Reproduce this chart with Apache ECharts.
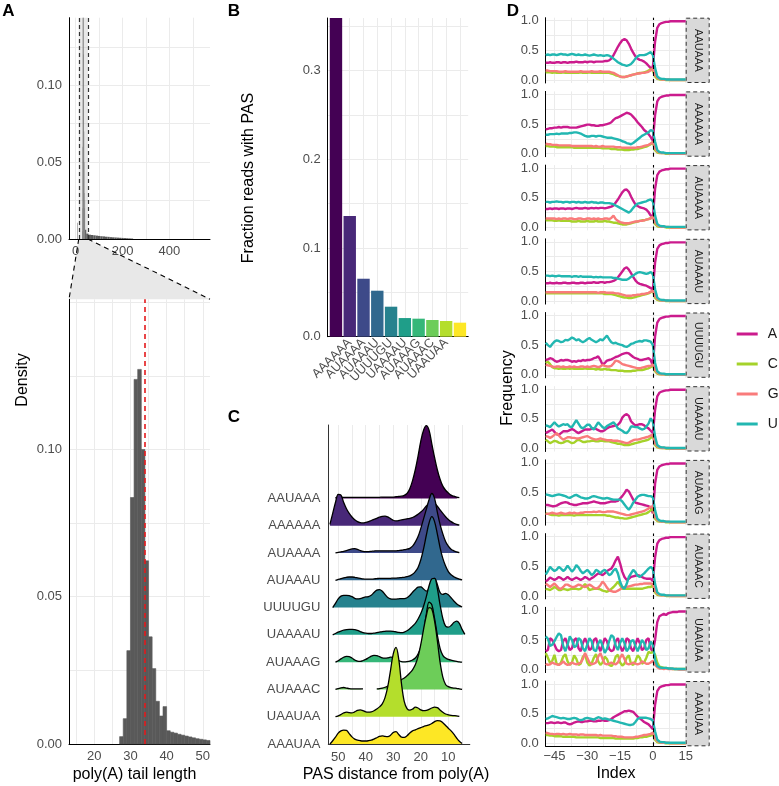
<!DOCTYPE html>
<html><head><meta charset="utf-8">
<script src="https://cdn.jsdelivr.net/npm/echarts@6.0.0/dist/echarts.min.js"></script>
<style>html,body{margin:0;padding:0;background:#fff}#c{width:779px;height:786px}</style>
</head><body><div id="c"></div>
<script>
// ---------------- Panel A data ----------------
const histLeft = [13,14,15,16,17,18,19,20,21,22,23,24,25,26,27,28,29,30,31,32,33,34,35,36,37,38,39,40,41,42,43,44,45,46,47,48,49,50,51];
const histDensity = [0,0,0,0,0,0,0,0,0,0,0,0,0,0,0.0025,0.0086,0.0317,0.0837,0.1238,0.1272,0.100,0.0622,0.0364,0.0256,0.0145,0.0095,0.0127,0.0045,0.0040,0.0037,0.0033,0.0030,0.0027,0.0024,0.0021,0.0018,0.0016,0.0014,0.0012];
const topBinStart = [6,27,28,29,30,31,32,33,34,35,36,37,38,39,40,45,55,65,75,85,95,105,115,125,135,145,155,165,175,185,195,205,215,225,235];
const topBinEnd   = [8,28,29,30,31,32,33,34,35,36,37,38,39,40,45,55,65,75,85,95,105,115,125,135,145,155,165,175,185,195,205,215,225,235,245];
const topDensity  = [0.0105,0.005,0.02,0.06,0.17,0.25,0.26,0.2,0.12,0.07,0.05,0.03,0.02,0.025,0.006,0.0035,0.0028,0.0026,0.0024,0.0022,0.002,0.0018,0.0017,0.0015,0.0014,0.0012,0.0011,0.001,0.0009,0.0008,0.0007,0.0006,0.0005,0.0004,0.0003];
const zoomRange = [13, 52];
const medianTail = 34;

// ---------------- Panel B data ----------------
const pasNames = ['AAUAAA','AAAAAA','AUAAAA','AUAAAU','UUUUGU','UAAAAU','AUAAAG','AUAAAC','UAAUAA','AAAUAA'];
const pasFraction = [0.38,0.136,0.0653,0.0518,0.0338,0.021,0.0203,0.0188,0.0177,0.0158];

// ---------------- Panel C data (density height per PAS, x = distance) ----------------
const ridgeX = [53,52,51,50,49,48,47,46,45,44,43,42,41,40,39,38,37,36,35,34,33,32,31,30,29,28,27,26,25,24,23,22,21,20,19,18,17,16,15,14,13,12,11,10,9,8,7,6,5,4];
const ridge_AAUAAA = [null,null,0.03,0.04,0.04,0.04,0.04,0.04,0.04,0.04,0.04,0.04,0.04,0.04,0.04,0.04,0.04,0.04,0.04,0.05,0.05,0.05,0.05,0.05,0.06,0.07,0.08,0.11,0.18,0.35,0.65,1.05,1.55,2.1,2.5,2.67,2.5,2.0,1.5,1.05,0.7,0.45,0.3,0.2,0.12,0.08,0.05,0.03,null,null];
const ridge_AAAAAA = [0.05,0.45,0.85,1.15,1.12,0.85,0.62,0.45,0.32,0.22,0.15,0.11,0.10,0.12,0.15,0.19,0.23,0.27,0.31,0.34,0.35,0.32,0.26,0.2,0.18,0.19,0.21,0.23,0.25,0.27,0.3,0.35,0.42,0.5,0.6,0.72,0.82,0.85,0.82,0.72,0.58,0.45,0.33,0.23,0.15,0.09,0.05,0.02,null,null];
const ridge_AUAAAA = [null,null,0,0.02,0.04,0.06,0.09,0.12,0.15,0.16,0.13,0.09,0.06,0.05,0.05,0.06,0.07,0.08,0.08,0.08,0.08,0.08,0.08,0.08,0.08,0.09,0.1,0.12,0.14,0.17,0.25,0.4,0.6,0.9,1.25,1.6,1.95,2.18,2.0,1.5,1.05,0.7,0.42,0.25,0.14,0.08,0.04,0.01,null,null];
const ridge_AUAAAU = [null,null,0,0.03,0.06,0.09,0.11,0.12,0.12,0.11,0.09,0.07,0.05,0.04,0.04,0.04,0.05,0.06,0.07,0.07,0.07,0.07,0.07,0.08,0.08,0.09,0.1,0.11,0.13,0.16,0.22,0.32,0.47,0.75,1.15,1.65,2.1,2.33,2.15,1.7,1.2,0.8,0.52,0.32,0.2,0.13,0.08,0.04,0.01,null];
const ridge_UUUUGU = [null,0,0.15,0.32,0.42,0.45,0.45,0.44,0.4,0.34,0.32,0.33,0.36,0.39,0.4,0.45,0.55,0.64,0.66,0.6,0.48,0.37,0.32,0.31,0.31,0.32,0.33,0.33,0.36,0.44,0.56,0.66,0.75,0.76,0.68,0.6,0.7,0.95,1.07,0.85,0.55,0.48,0.52,0.47,0.36,0.24,0.14,0.07,0.02,null];
const ridge_UAAAAU = [null,0,0.05,0.1,0.14,0.17,0.19,0.2,0.2,0.19,0.16,0.12,0.08,0.06,0.05,0.05,0.06,0.08,0.1,0.12,0.13,0.14,0.14,0.13,0.11,0.09,0.08,0.1,0.15,0.22,0.32,0.42,0.58,0.78,1.05,1.4,1.8,2.05,2.07,1.7,1.1,0.6,0.32,0.28,0.34,0.45,0.5,0.42,0.2,0.02];
const ridge_AUAAAG = [null,null,0,0.05,0.12,0.18,0.21,0.2,0.15,0.08,0.04,0.03,0.06,0.1,0.16,0.22,0.25,0.24,0.2,0.16,0.15,0.16,0.18,0.17,0.12,0.06,0.02,0.01,0.02,0.04,0.08,0.15,0.3,0.55,1.05,1.75,2.2,2.1,1.6,1.0,0.5,0.25,0.15,0.1,0.07,0.05,0.03,0.01,0,null];
const ridge_AUAAAC = [null,null,0,0.03,0.06,0.07,0.05,0.03,0.02,0.02,0.02,0.02,0.02,null,null,null,null,0.02,0.03,0.05,0.08,0.12,0.16,0.2,0.25,0.3,0.36,0.42,0.5,0.6,0.72,0.9,1.2,1.65,2.2,2.7,3.0,2.95,2.5,1.8,1.0,0.45,0.18,0.1,0.07,0.05,0.04,0.02,0,null];
const ridge_UAAUAA = [null,null,0,0.03,0.08,0.14,0.17,0.15,0.14,0.18,0.23,0.25,0.22,0.18,0.17,0.18,0.22,0.28,0.36,0.47,0.7,1.1,1.7,2.3,2.54,2.1,1.2,0.55,0.3,0.24,0.28,0.35,0.32,0.25,0.22,0.23,0.27,0.32,0.35,0.33,0.25,0.16,0.1,0.07,0.05,0.04,0.03,0.01,null,null];
const ridge_AAAUAA = [0,0.12,0.25,0.4,0.48,0.51,0.5,0.38,0.26,0.18,0.14,0.12,0.11,0.11,0.12,0.14,0.18,0.23,0.28,0.3,0.28,0.27,0.32,0.42,0.45,0.35,0.25,0.24,0.3,0.4,0.48,0.52,0.56,0.6,0.64,0.67,0.7,0.75,0.82,0.86,0.85,0.78,0.68,0.58,0.48,0.36,0.22,0.1,0.02,null];

// ---------------- Panel D data (nucleotide frequency by index) ----------------
const idx = [-49,-48,-47,-46,-45,-44,-43,-42,-41,-40,-39,-38,-37,-36,-35,-34,-33,-32,-31,-30,-29,-28,-27,-26,-25,-24,-23,-22,-21,-20,-19,-18,-17,-16,-15,-14,-13,-12,-11,-10,-9,-8,-7,-6,-5,-4,-3,-2,-1,0,1,2,3,4,5,6,7,8,9,10,11,12,13,14,15];
const nts = ['A','C','G','U'];

const AAUAAA_A = [0.29,0.29,0.30,0.29,0.29,0.30,0.30,0.29,0.30,0.30,0.29,0.30,0.30,0.30,0.31,0.30,0.30,0.30,0.31,0.30,0.31,0.31,0.30,0.31,0.31,0.31,0.31,0.32,0.32,0.33,0.36,0.42,0.49,0.56,0.62,0.67,0.69,0.67,0.61,0.53,0.46,0.40,0.36,0.34,0.33,0.31,0.28,0.24,0.20,0.22,0.65,0.88,0.94,0.96,0.97,0.98,0.98,0.99,0.99,0.99,0.99,0.99,0.99,0.99,0.99];
const AAUAAA_C = [0.13,0.13,0.13,0.12,0.13,0.12,0.12,0.12,0.13,0.12,0.12,0.12,0.12,0.12,0.12,0.12,0.13,0.12,0.12,0.12,0.13,0.12,0.12,0.12,0.12,0.12,0.12,0.12,0.12,0.12,0.11,0.10,0.08,0.07,0.06,0.05,0.05,0.06,0.07,0.08,0.09,0.10,0.11,0.12,0.12,0.13,0.14,0.16,0.18,0.16,0.06,0.02,0.01,0.01,0.01,0.00,0.00,0.00,0.00,0.00,0.00,0.00,0.00,0.00,0.00];
const AAUAAA_G = [0.16,0.16,0.15,0.15,0.15,0.15,0.14,0.14,0.14,0.15,0.14,0.14,0.14,0.14,0.14,0.14,0.15,0.14,0.14,0.14,0.14,0.15,0.14,0.14,0.14,0.15,0.14,0.14,0.14,0.14,0.13,0.12,0.10,0.08,0.06,0.05,0.05,0.06,0.07,0.08,0.09,0.10,0.11,0.11,0.12,0.12,0.13,0.14,0.16,0.20,0.09,0.04,0.02,0.01,0.01,0.01,0.01,0.00,0.00,0.00,0.00,0.00,0.00,0.00,0.00];
const AAUAAA_U = [0.42,0.43,0.42,0.43,0.43,0.42,0.43,0.44,0.43,0.43,0.42,0.43,0.44,0.43,0.42,0.43,0.42,0.42,0.43,0.42,0.41,0.42,0.43,0.42,0.41,0.42,0.41,0.41,0.42,0.41,0.39,0.36,0.33,0.30,0.28,0.26,0.25,0.24,0.25,0.27,0.31,0.36,0.40,0.42,0.42,0.42,0.43,0.45,0.47,0.42,0.20,0.06,0.03,0.02,0.02,0.01,0.01,0.01,0.01,0.01,0.01,0.01,0.01,0.01,0.01];

const AAAAAA_A = [0.41,0.42,0.43,0.43,0.44,0.44,0.45,0.44,0.45,0.45,0.45,0.44,0.44,0.44,0.44,0.45,0.46,0.47,0.48,0.49,0.49,0.48,0.48,0.47,0.47,0.48,0.48,0.49,0.50,0.51,0.53,0.57,0.60,0.61,0.63,0.65,0.67,0.69,0.68,0.66,0.62,0.58,0.53,0.49,0.45,0.40,0.37,0.33,0.28,0.22,0.65,0.88,0.94,0.96,0.97,0.98,0.98,0.99,0.99,0.99,0.99,0.99,0.99,0.99,0.99];
const AAAAAA_C = [0.13,0.13,0.12,0.12,0.12,0.11,0.11,0.11,0.11,0.11,0.11,0.11,0.11,0.10,0.10,0.10,0.10,0.10,0.10,0.10,0.10,0.10,0.10,0.10,0.10,0.10,0.09,0.09,0.09,0.09,0.08,0.08,0.08,0.07,0.07,0.07,0.06,0.06,0.06,0.07,0.07,0.08,0.08,0.09,0.10,0.11,0.12,0.14,0.16,0.20,0.06,0.02,0.01,0.01,0.01,0.00,0.00,0.00,0.00,0.00,0.00,0.00,0.00,0.00,0.00];
const AAAAAA_G = [0.17,0.16,0.16,0.15,0.15,0.15,0.14,0.14,0.14,0.14,0.14,0.14,0.13,0.13,0.13,0.13,0.13,0.13,0.13,0.13,0.13,0.13,0.12,0.13,0.12,0.12,0.13,0.12,0.12,0.12,0.12,0.12,0.11,0.11,0.11,0.10,0.10,0.10,0.10,0.10,0.10,0.10,0.11,0.11,0.12,0.13,0.14,0.15,0.17,0.20,0.09,0.04,0.02,0.01,0.01,0.01,0.01,0.00,0.00,0.00,0.00,0.00,0.00,0.00,0.00];
const AAAAAA_U = [0.32,0.32,0.33,0.33,0.33,0.34,0.33,0.34,0.34,0.34,0.34,0.35,0.35,0.36,0.36,0.35,0.34,0.32,0.30,0.29,0.29,0.30,0.30,0.29,0.30,0.30,0.29,0.28,0.27,0.27,0.27,0.26,0.25,0.24,0.23,0.21,0.20,0.18,0.17,0.16,0.18,0.21,0.24,0.27,0.30,0.32,0.34,0.36,0.40,0.38,0.20,0.06,0.03,0.02,0.02,0.01,0.01,0.01,0.01,0.01,0.01,0.01,0.01,0.01,0.01];

const AUAAAA_A = [0.31,0.31,0.32,0.31,0.32,0.32,0.31,0.32,0.32,0.31,0.32,0.32,0.31,0.32,0.33,0.32,0.32,0.32,0.33,0.32,0.32,0.33,0.32,0.33,0.32,0.33,0.33,0.32,0.33,0.34,0.35,0.37,0.42,0.47,0.53,0.59,0.63,0.64,0.60,0.52,0.45,0.39,0.36,0.34,0.33,0.32,0.30,0.26,0.20,0.18,0.65,0.88,0.94,0.96,0.97,0.98,0.98,0.99,0.99,0.99,0.99,0.99,0.99,0.99,0.99];
const AUAAAA_C = [0.12,0.12,0.12,0.12,0.11,0.11,0.12,0.11,0.11,0.11,0.11,0.11,0.10,0.10,0.10,0.11,0.10,0.10,0.10,0.11,0.10,0.10,0.10,0.11,0.10,0.10,0.10,0.11,0.10,0.10,0.09,0.08,0.08,0.07,0.06,0.05,0.05,0.05,0.06,0.07,0.08,0.09,0.10,0.11,0.12,0.12,0.13,0.14,0.16,0.18,0.06,0.02,0.01,0.01,0.01,0.00,0.00,0.00,0.00,0.00,0.00,0.00,0.00,0.00,0.00];
const AUAAAA_G = [0.15,0.15,0.15,0.15,0.15,0.14,0.15,0.14,0.15,0.15,0.14,0.15,0.15,0.14,0.14,0.15,0.15,0.14,0.14,0.15,0.15,0.14,0.15,0.14,0.15,0.14,0.14,0.15,0.15,0.14,0.16,0.20,0.14,0.11,0.09,0.08,0.07,0.07,0.07,0.08,0.09,0.10,0.10,0.11,0.11,0.12,0.13,0.14,0.15,0.18,0.09,0.04,0.02,0.01,0.01,0.01,0.01,0.00,0.00,0.00,0.00,0.00,0.00,0.00,0.00];
const AUAAAA_U = [0.43,0.43,0.42,0.43,0.43,0.44,0.43,0.43,0.42,0.43,0.43,0.42,0.43,0.43,0.42,0.43,0.42,0.42,0.43,0.42,0.42,0.43,0.42,0.42,0.41,0.42,0.42,0.41,0.41,0.41,0.40,0.39,0.37,0.35,0.33,0.31,0.29,0.27,0.25,0.28,0.33,0.37,0.40,0.41,0.42,0.43,0.44,0.46,0.47,0.44,0.20,0.06,0.03,0.02,0.02,0.01,0.01,0.01,0.01,0.01,0.01,0.01,0.01,0.01,0.01];

const AUAAAU_A = [0.30,0.30,0.31,0.30,0.30,0.31,0.30,0.30,0.31,0.31,0.30,0.30,0.31,0.31,0.30,0.30,0.31,0.31,0.30,0.31,0.31,0.31,0.32,0.31,0.31,0.32,0.32,0.31,0.32,0.32,0.33,0.34,0.36,0.40,0.45,0.50,0.55,0.57,0.53,0.47,0.41,0.35,0.31,0.29,0.28,0.27,0.26,0.24,0.22,0.20,0.65,0.88,0.94,0.96,0.97,0.98,0.98,0.99,0.99,0.99,0.99,0.99,0.99,0.99,0.99];
const AUAAAU_C = [0.13,0.13,0.13,0.13,0.13,0.13,0.13,0.13,0.13,0.13,0.13,0.13,0.13,0.13,0.13,0.13,0.13,0.13,0.13,0.13,0.13,0.13,0.13,0.13,0.13,0.13,0.13,0.12,0.12,0.12,0.12,0.11,0.10,0.09,0.08,0.07,0.06,0.06,0.05,0.05,0.06,0.07,0.08,0.09,0.10,0.11,0.12,0.13,0.15,0.17,0.06,0.02,0.01,0.01,0.01,0.00,0.00,0.00,0.00,0.00,0.00,0.00,0.00,0.00,0.00];
const AUAAAU_G = [0.15,0.15,0.15,0.15,0.15,0.15,0.15,0.15,0.15,0.15,0.15,0.15,0.15,0.15,0.15,0.15,0.15,0.15,0.15,0.15,0.15,0.15,0.15,0.15,0.14,0.15,0.15,0.15,0.14,0.14,0.14,0.14,0.13,0.13,0.12,0.11,0.10,0.09,0.09,0.09,0.10,0.10,0.11,0.11,0.12,0.12,0.13,0.14,0.16,0.18,0.09,0.04,0.02,0.01,0.01,0.01,0.01,0.00,0.00,0.00,0.00,0.00,0.00,0.00,0.00];
const AUAAAU_U = [0.43,0.43,0.42,0.43,0.42,0.42,0.43,0.42,0.42,0.42,0.42,0.42,0.41,0.42,0.42,0.41,0.42,0.41,0.41,0.41,0.41,0.41,0.40,0.41,0.40,0.41,0.40,0.40,0.40,0.40,0.40,0.39,0.39,0.38,0.37,0.36,0.36,0.36,0.38,0.41,0.43,0.46,0.48,0.49,0.48,0.47,0.46,0.47,0.49,0.45,0.20,0.06,0.03,0.02,0.02,0.01,0.01,0.01,0.01,0.01,0.01,0.01,0.01,0.01,0.01];

const UUUUGU_A = [0.25,0.26,0.28,0.27,0.24,0.22,0.23,0.25,0.24,0.25,0.25,0.24,0.22,0.23,0.22,0.24,0.23,0.25,0.24,0.25,0.25,0.26,0.28,0.29,0.31,0.25,0.17,0.20,0.24,0.25,0.26,0.28,0.30,0.31,0.33,0.35,0.36,0.37,0.36,0.33,0.30,0.28,0.27,0.25,0.25,0.26,0.27,0.28,0.25,0.15,0.65,0.88,0.94,0.96,0.97,0.98,0.98,0.99,0.99,0.99,0.99,0.99,0.99,0.99,0.99];
const UUUUGU_C = [0.20,0.22,0.18,0.13,0.11,0.11,0.10,0.11,0.10,0.10,0.11,0.10,0.11,0.10,0.10,0.10,0.10,0.10,0.11,0.10,0.10,0.10,0.10,0.09,0.10,0.09,0.09,0.10,0.09,0.09,0.08,0.08,0.08,0.07,0.07,0.07,0.06,0.06,0.06,0.06,0.07,0.07,0.08,0.08,0.08,0.09,0.10,0.11,0.13,0.16,0.06,0.02,0.01,0.01,0.01,0.00,0.00,0.00,0.00,0.00,0.00,0.00,0.00,0.00,0.00];
const UUUUGU_G = [0.17,0.16,0.15,0.14,0.13,0.14,0.14,0.13,0.14,0.13,0.13,0.14,0.13,0.14,0.13,0.13,0.14,0.14,0.13,0.14,0.13,0.14,0.15,0.14,0.13,0.14,0.17,0.15,0.14,0.14,0.15,0.19,0.24,0.23,0.21,0.18,0.17,0.16,0.15,0.14,0.13,0.12,0.11,0.11,0.12,0.13,0.14,0.15,0.15,0.18,0.09,0.04,0.02,0.01,0.01,0.01,0.01,0.00,0.00,0.00,0.00,0.00,0.00,0.00,0.00];
const UUUUGU_U = [0.54,0.50,0.47,0.52,0.56,0.58,0.57,0.55,0.56,0.59,0.58,0.60,0.63,0.61,0.58,0.60,0.57,0.55,0.57,0.60,0.62,0.59,0.57,0.55,0.57,0.60,0.58,0.62,0.66,0.60,0.55,0.53,0.54,0.52,0.51,0.50,0.48,0.47,0.49,0.52,0.53,0.55,0.56,0.57,0.56,0.58,0.58,0.57,0.56,0.50,0.20,0.06,0.03,0.02,0.02,0.01,0.01,0.01,0.01,0.01,0.01,0.01,0.01,0.01,0.01];

const UAAAAU_A = [0.26,0.28,0.30,0.32,0.28,0.24,0.23,0.26,0.29,0.29,0.29,0.31,0.33,0.31,0.28,0.26,0.28,0.30,0.32,0.32,0.32,0.33,0.34,0.33,0.31,0.29,0.29,0.31,0.34,0.36,0.37,0.38,0.39,0.40,0.44,0.52,0.56,0.58,0.55,0.46,0.42,0.39,0.40,0.41,0.41,0.39,0.36,0.34,0.30,0.26,0.65,0.88,0.94,0.96,0.97,0.98,0.98,0.99,0.99,0.99,0.99,0.99,0.99,0.99,0.99];
const UAAAAU_C = [0.15,0.12,0.09,0.11,0.13,0.12,0.10,0.09,0.10,0.12,0.13,0.11,0.09,0.10,0.13,0.15,0.13,0.11,0.11,0.12,0.12,0.13,0.13,0.12,0.12,0.13,0.13,0.12,0.12,0.12,0.11,0.10,0.09,0.08,0.08,0.07,0.06,0.06,0.06,0.07,0.08,0.09,0.10,0.11,0.12,0.13,0.14,0.15,0.18,0.21,0.06,0.02,0.01,0.01,0.01,0.00,0.00,0.00,0.00,0.00,0.00,0.00,0.00,0.00,0.00];
const UAAAAU_G = [0.21,0.20,0.18,0.20,0.23,0.26,0.22,0.18,0.15,0.17,0.19,0.19,0.18,0.18,0.17,0.17,0.18,0.19,0.20,0.21,0.19,0.17,0.16,0.15,0.16,0.17,0.16,0.15,0.14,0.14,0.14,0.13,0.13,0.13,0.12,0.11,0.10,0.09,0.10,0.12,0.14,0.15,0.15,0.16,0.17,0.18,0.19,0.20,0.22,0.23,0.09,0.04,0.02,0.01,0.01,0.01,0.01,0.00,0.00,0.00,0.00,0.00,0.00,0.00,0.00];
const UAAAAU_U = [0.39,0.38,0.36,0.40,0.44,0.40,0.37,0.39,0.41,0.40,0.41,0.37,0.36,0.42,0.48,0.42,0.36,0.34,0.37,0.40,0.40,0.35,0.32,0.38,0.44,0.40,0.36,0.34,0.38,0.40,0.42,0.44,0.40,0.34,0.32,0.30,0.27,0.26,0.30,0.37,0.37,0.36,0.36,0.34,0.32,0.33,0.37,0.42,0.51,0.45,0.20,0.06,0.03,0.02,0.02,0.01,0.01,0.01,0.01,0.01,0.01,0.01,0.01,0.01,0.01];

const AUAAAG_A = [0.29,0.29,0.28,0.27,0.27,0.28,0.30,0.32,0.33,0.34,0.33,0.31,0.30,0.29,0.29,0.30,0.31,0.32,0.32,0.32,0.33,0.34,0.35,0.34,0.33,0.32,0.32,0.32,0.33,0.34,0.35,0.35,0.35,0.36,0.40,0.44,0.49,0.55,0.52,0.45,0.38,0.33,0.32,0.31,0.30,0.29,0.28,0.27,0.25,0.15,0.65,0.88,0.94,0.96,0.97,0.98,0.98,0.99,0.99,0.99,0.99,0.99,0.99,0.99,0.99];
const AUAAAG_C = [0.15,0.14,0.13,0.12,0.12,0.12,0.11,0.12,0.12,0.12,0.12,0.12,0.12,0.11,0.12,0.12,0.12,0.12,0.12,0.12,0.12,0.12,0.12,0.12,0.12,0.12,0.12,0.12,0.11,0.11,0.10,0.09,0.08,0.08,0.07,0.07,0.06,0.06,0.07,0.08,0.09,0.10,0.11,0.12,0.13,0.14,0.15,0.17,0.20,0.24,0.06,0.02,0.01,0.01,0.01,0.00,0.00,0.00,0.00,0.00,0.00,0.00,0.00,0.00,0.00];
const AUAAAG_G = [0.14,0.14,0.15,0.16,0.15,0.14,0.15,0.16,0.15,0.14,0.15,0.16,0.15,0.16,0.15,0.15,0.16,0.16,0.17,0.17,0.17,0.17,0.18,0.17,0.18,0.18,0.17,0.17,0.18,0.18,0.18,0.18,0.17,0.16,0.15,0.14,0.13,0.12,0.12,0.13,0.14,0.15,0.16,0.17,0.18,0.19,0.21,0.23,0.26,0.27,0.09,0.04,0.02,0.01,0.01,0.01,0.01,0.00,0.00,0.00,0.00,0.00,0.00,0.00,0.00];
const AUAAAG_U = [0.47,0.46,0.45,0.44,0.45,0.46,0.47,0.46,0.45,0.44,0.42,0.41,0.43,0.45,0.46,0.44,0.42,0.41,0.40,0.40,0.41,0.43,0.44,0.43,0.42,0.41,0.40,0.40,0.41,0.40,0.39,0.38,0.38,0.38,0.38,0.35,0.30,0.25,0.21,0.26,0.33,0.38,0.43,0.45,0.46,0.46,0.45,0.44,0.44,0.42,0.20,0.06,0.03,0.02,0.02,0.01,0.01,0.01,0.01,0.01,0.01,0.01,0.01,0.01,0.01];

const AUAAAC_A = [0.24,0.27,0.31,0.29,0.27,0.29,0.32,0.30,0.27,0.29,0.32,0.29,0.27,0.29,0.31,0.29,0.27,0.29,0.32,0.30,0.27,0.30,0.32,0.35,0.38,0.37,0.35,0.38,0.42,0.44,0.46,0.52,0.60,0.66,0.55,0.41,0.32,0.27,0.29,0.32,0.33,0.34,0.35,0.34,0.32,0.30,0.29,0.29,0.29,0.25,0.65,0.88,0.94,0.96,0.97,0.98,0.98,0.99,0.99,0.99,0.99,0.99,0.99,0.99,0.99];
const AUAAAC_C = [0.12,0.11,0.10,0.12,0.15,0.13,0.10,0.10,0.12,0.11,0.10,0.11,0.12,0.12,0.12,0.11,0.12,0.16,0.20,0.15,0.10,0.11,0.12,0.12,0.12,0.11,0.09,0.08,0.07,0.09,0.12,0.15,0.19,0.24,0.18,0.12,0.12,0.12,0.12,0.12,0.12,0.12,0.12,0.12,0.12,0.13,0.14,0.15,0.15,0.18,0.06,0.02,0.01,0.01,0.01,0.00,0.00,0.00,0.00,0.00,0.00,0.00,0.00,0.00,0.00];
const AUAAAC_G = [0.21,0.18,0.15,0.18,0.21,0.17,0.13,0.12,0.15,0.19,0.19,0.17,0.15,0.15,0.17,0.19,0.18,0.16,0.15,0.17,0.19,0.17,0.14,0.12,0.14,0.18,0.24,0.20,0.14,0.10,0.08,0.07,0.07,0.09,0.11,0.14,0.15,0.15,0.16,0.17,0.18,0.19,0.19,0.20,0.20,0.21,0.21,0.21,0.21,0.20,0.09,0.04,0.02,0.01,0.01,0.01,0.01,0.00,0.00,0.00,0.00,0.00,0.00,0.00,0.00];
const AUAAAC_U = [0.36,0.42,0.49,0.45,0.42,0.44,0.49,0.46,0.42,0.45,0.51,0.46,0.41,0.45,0.52,0.48,0.42,0.38,0.41,0.44,0.40,0.35,0.38,0.44,0.42,0.38,0.42,0.44,0.40,0.35,0.37,0.43,0.46,0.38,0.24,0.15,0.12,0.20,0.32,0.38,0.44,0.40,0.34,0.32,0.35,0.38,0.42,0.46,0.49,0.45,0.20,0.06,0.03,0.02,0.02,0.01,0.01,0.01,0.01,0.01,0.01,0.01,0.01,0.01,0.01];

const UAAUAA_A = [0.31,0.33,0.53,0.50,0.42,0.34,0.31,0.33,0.48,0.53,0.42,0.33,0.36,0.50,0.53,0.36,0.31,0.45,0.53,0.44,0.33,0.36,0.50,0.53,0.40,0.31,0.42,0.53,0.48,0.35,0.31,0.33,0.48,0.53,0.40,0.31,0.38,0.53,0.50,0.36,0.31,0.42,0.53,0.45,0.33,0.36,0.50,0.53,0.36,0.30,0.50,0.80,0.90,0.92,0.94,0.92,0.95,0.96,0.97,0.97,0.97,0.98,0.98,0.98,0.98];
const UAAUAA_C = [0.28,0.20,0.11,0.15,0.25,0.10,0.08,0.12,0.22,0.26,0.14,0.08,0.12,0.24,0.18,0.08,0.10,0.22,0.25,0.12,0.07,0.10,0.20,0.26,0.14,0.08,0.12,0.22,0.18,0.08,0.06,0.10,0.22,0.25,0.12,0.07,0.10,0.20,0.24,0.10,0.08,0.14,0.24,0.20,0.10,0.12,0.20,0.30,0.28,0.30,0.25,0.12,0.05,0.04,0.03,0.03,0.02,0.02,0.01,0.01,0.01,0.01,0.01,0.01,0.01];
const UAAUAA_G = [0.10,0.08,0.09,0.12,0.10,0.09,0.08,0.10,0.14,0.10,0.08,0.09,0.12,0.10,0.09,0.10,0.12,0.18,0.28,0.20,0.12,0.09,0.10,0.12,0.22,0.28,0.18,0.10,0.09,0.10,0.12,0.10,0.09,0.12,0.20,0.26,0.18,0.10,0.09,0.10,0.12,0.10,0.09,0.10,0.14,0.12,0.10,0.10,0.12,0.15,0.08,0.04,0.02,0.02,0.01,0.02,0.01,0.01,0.01,0.01,0.01,0.00,0.00,0.00,0.00];
const UAAUAA_U = [0.56,0.52,0.40,0.42,0.48,0.55,0.61,0.58,0.40,0.31,0.42,0.56,0.50,0.38,0.40,0.53,0.50,0.36,0.31,0.42,0.53,0.48,0.33,0.31,0.44,0.50,0.40,0.28,0.35,0.48,0.58,0.55,0.40,0.33,0.45,0.53,0.45,0.31,0.36,0.48,0.50,0.40,0.31,0.40,0.50,0.45,0.33,0.36,0.47,0.42,0.17,0.06,0.04,0.03,0.03,0.03,0.02,0.02,0.02,0.01,0.01,0.01,0.01,0.01,0.01];

const AAAUAA_A = [0.34,0.34,0.35,0.35,0.34,0.35,0.35,0.34,0.35,0.35,0.33,0.32,0.33,0.35,0.36,0.37,0.36,0.36,0.37,0.37,0.38,0.38,0.37,0.37,0.38,0.38,0.39,0.38,0.38,0.39,0.41,0.44,0.46,0.48,0.50,0.52,0.54,0.54,0.55,0.54,0.53,0.49,0.45,0.42,0.39,0.36,0.34,0.32,0.28,0.24,0.65,0.88,0.94,0.96,0.97,0.98,0.98,0.99,0.99,0.99,0.99,0.99,0.99,0.99,0.99];
const AAAUAA_C = [0.14,0.14,0.13,0.13,0.12,0.12,0.12,0.12,0.11,0.11,0.11,0.11,0.11,0.11,0.10,0.10,0.10,0.10,0.10,0.10,0.10,0.10,0.10,0.10,0.10,0.09,0.09,0.09,0.09,0.09,0.09,0.09,0.08,0.08,0.08,0.08,0.08,0.08,0.08,0.08,0.08,0.09,0.09,0.10,0.10,0.11,0.11,0.12,0.13,0.16,0.06,0.02,0.01,0.01,0.01,0.00,0.00,0.00,0.00,0.00,0.00,0.00,0.00,0.00,0.00];
const AAAUAA_G = [0.18,0.17,0.16,0.16,0.15,0.16,0.16,0.15,0.16,0.15,0.15,0.16,0.15,0.15,0.15,0.14,0.15,0.15,0.14,0.14,0.14,0.14,0.14,0.14,0.13,0.14,0.13,0.13,0.13,0.13,0.13,0.12,0.12,0.11,0.11,0.11,0.10,0.10,0.10,0.10,0.10,0.11,0.11,0.12,0.13,0.14,0.14,0.15,0.16,0.18,0.09,0.04,0.02,0.01,0.01,0.01,0.01,0.00,0.00,0.00,0.00,0.00,0.00,0.00,0.00];
const AAAUAA_U = [0.41,0.42,0.44,0.46,0.45,0.44,0.43,0.42,0.43,0.42,0.41,0.41,0.42,0.43,0.42,0.40,0.39,0.40,0.42,0.43,0.42,0.41,0.40,0.42,0.44,0.43,0.41,0.42,0.41,0.40,0.39,0.38,0.37,0.36,0.35,0.34,0.33,0.32,0.31,0.31,0.32,0.36,0.41,0.43,0.43,0.43,0.43,0.42,0.41,0.38,0.20,0.06,0.03,0.02,0.02,0.01,0.01,0.01,0.01,0.01,0.01,0.01,0.01,0.01,0.01];

// ---------------- styling ----------------
const FONT = "'Liberation Sans', Arial, Helvetica, sans-serif";
const TICKC = '#4D4D4D';
const GRIDC = '#EBEBEB';
const viridis = ['#440154','#482878','#3E4A89','#31688E','#26828E','#1F9E89','#35B779','#6DCD59','#B4DE2C','#FDE725'];
const ntColor = {A:'#CB1B8D', C:'#A5D22A', G:'#F97B7B', U:'#22B7B1'};

const ridges = [ridge_AAUAAA, ridge_AAAAAA, ridge_AUAAAA, ridge_AUAAAU, ridge_UUUUGU, ridge_UAAAAU, ridge_AUAAAG, ridge_AUAAAC, ridge_UAAUAA, ridge_AAAUAA];
const freq = {
  AAUAAA:{A:AAUAAA_A,C:AAUAAA_C,G:AAUAAA_G,U:AAUAAA_U},
  AAAAAA:{A:AAAAAA_A,C:AAAAAA_C,G:AAAAAA_G,U:AAAAAA_U},
  AUAAAA:{A:AUAAAA_A,C:AUAAAA_C,G:AUAAAA_G,U:AUAAAA_U},
  AUAAAU:{A:AUAAAU_A,C:AUAAAU_C,G:AUAAAU_G,U:AUAAAU_U},
  UUUUGU:{A:UUUUGU_A,C:UUUUGU_C,G:UUUUGU_G,U:UUUUGU_U},
  UAAAAU:{A:UAAAAU_A,C:UAAAAU_C,G:UAAAAU_G,U:UAAAAU_U},
  AUAAAG:{A:AUAAAG_A,C:AUAAAG_C,G:AUAAAG_G,U:AUAAAG_U},
  AUAAAC:{A:AUAAAC_A,C:AUAAAC_C,G:AUAAAC_G,U:AUAAAC_U},
  UAAUAA:{A:UAAUAA_A,C:UAAUAA_C,G:UAAUAA_G,U:UAAUAA_U},
  AAAUAA:{A:AAAUAA_A,C:AAAUAA_C,G:AAAUAA_G,U:AAAUAA_U}
};

// ---------------- layout ----------------
const L_ATOP = {left:69, top:17.7, width:141, height:221.3};
const L_ABOT = {left:69, top:299.3, width:141, height:444.7};
const L_B = {left:327.7, top:18, width:140.5, height:318.7};
const L_C = {left:328.3, top:425, width:141.5, height:319};
const D_LEFT = 545.7, D_WIDTH = 140, D_TOP = 17.7, D_PITCH = 73.7, D_HEIGHT = 65.3;

const chart = echarts.init(document.getElementById('c'), null, {renderer:'canvas', width:779, height:786});

function lbl(extra){ return Object.assign({color:TICKC, fontSize:13, fontFamily:FONT}, extra); }
const split = {show:true, lineStyle:{color:GRIDC, width:1}};

const grids = [
  Object.assign({outerBoundsMode:'none', containLabel:false}, L_ATOP),
  Object.assign({outerBoundsMode:'none', containLabel:false}, L_ABOT),
  Object.assign({outerBoundsMode:'none', containLabel:false}, L_B),
  Object.assign({outerBoundsMode:'none', containLabel:false}, L_C)
];
for (let k=0;k<10;k++) grids.push({outerBoundsMode:'none', containLabel:false, left:D_LEFT, top:D_TOP+D_PITCH*k, width:D_WIDTH, height:D_HEIGHT});

const xAxes = [
  {type:'value', gridIndex:0, min:-28.6, max:573,
   axisLine:{show:true, onZero:false, lineStyle:{color:'#000', width:1}},
   axisTick:{show:false, customValues:[0,100,200,300,400,500]},
   axisLabel:lbl({customValues:[0,200,400], margin:6}), splitLine:split},
  {type:'value', gridIndex:1, min:zoomRange[0], max:zoomRange[1],
   axisLine:{show:true, onZero:false, lineStyle:{color:'#000', width:1}},
   axisTick:{show:false, customValues:[15,20,25,30,35,40,45,50]},
   axisLabel:lbl({customValues:[20,30,40,50], margin:6}), splitLine:split},
  {type:'value', gridIndex:2, min:0.4, max:10.6,
   axisLine:{show:true, onZero:false, lineStyle:{color:'#000', width:1}},
   axisTick:{show:false, customValues:[1,2,3,4,5,6,7,8,9,10]},
   axisLabel:lbl({customValues:[1,2,3,4,5,6,7,8,9,10], rotate:45, fontSize:12.5, margin:4, formatter:(v)=>pasNames[Math.round(v)-1]}), splitLine:split},
  {type:'value', gridIndex:3, min:2.2, max:53.6, inverse:true,
   axisLine:{show:true, onZero:false, lineStyle:{color:'#333', width:1}},
   axisTick:{show:false, customValues:[5,10,15,20,25,30,35,40,45,50]},
   axisLabel:lbl({customValues:[10,20,30,40,50], margin:7}), splitLine:split}
];
const yAxes = [
  {type:'value', gridIndex:0, min:0, max:0.144,
   axisLine:{show:true, onZero:false, lineStyle:{color:'#000', width:1}},
   axisTick:{show:false, customValues:[0,0.025,0.05,0.075,0.1,0.125]},
   axisLabel:lbl({customValues:[0,0.05,0.1], margin:7, formatter:(v)=>v.toFixed(2)}), splitLine:split},
  {type:'value', gridIndex:1, min:0, max:0.151,
   axisLine:{show:true, onZero:false, lineStyle:{color:'#000', width:1}},
   axisTick:{show:false, customValues:[0,0.025,0.05,0.075,0.1,0.125,0.15]},
   axisLabel:lbl({customValues:[0,0.05,0.1], margin:7, formatter:(v)=>v.toFixed(2)}), splitLine:split},
  {type:'value', gridIndex:2, min:0, max:0.359,
   axisLine:{show:true, onZero:false, lineStyle:{color:'#000', width:1}},
   axisTick:{show:false, customValues:[0,0.05,0.1,0.15,0.2,0.25,0.3,0.35]},
   axisLabel:lbl({customValues:[0,0.1,0.2,0.3], margin:7, formatter:(v)=>v.toFixed(1)}), splitLine:split},
  {type:'value', gridIndex:3, min:0, max:11.69,
   axisLine:{show:true, onZero:false, lineStyle:{color:'#333', width:1}},
   axisTick:{show:false, customValues:[0,1,2,3,4,5,6,7,8,9]},
   axisLabel:lbl({customValues:[0,1,2,3,4,5,6,7,8,9], margin:8, formatter:(v)=>pasNames[9-Math.round(v)]}), splitLine:{show:false}}
];
for (let k=0;k<10;k++){
  xAxes.push({type:'value', gridIndex:4+k, min:-49, max:15,
    axisLine:{show:k===9, onZero:false, lineStyle:{color:'#000', width:1}},
    axisTick:{show:false, customValues:[-45,-37.5,-30,-22.5,-15,-7.5,0,7.5,15]},
    axisLabel:lbl({show:k===9, customValues:[-45,-30,-15,0,15], margin:4, formatter:(v)=> v<0 ? '\u2212'+(-v) : String(v)}),
    splitLine:split});
  yAxes.push({type:'value', gridIndex:4+k, min:-0.05, max:1.05,
    axisLine:{show:true, onZero:false, lineStyle:{color:'#000', width:1}},
    axisTick:{show:false, customValues:[0,0.25,0.5,0.75,1]},
    axisLabel:lbl({customValues:[0,0.5,1], margin:7, formatter:(v)=>v.toFixed(1)}),
    splitLine:split});
}

function rectRender(fillFn, seam){
  return function(params, api){
    const x0 = api.value(0), x1 = api.value(1), d = api.value(2);
    const p0 = api.coord([x0, d]); const p1 = api.coord([x1, 0]);
    const cs = params.coordSys;
    const shape = echarts.graphic.clipRectByRect(
      {x:Math.min(p0[0],p1[0]), y:p0[1], width:Math.abs(p1[0]-p0[0]), height:p1[1]-p0[1]},
      {x:cs.x, y:cs.y, width:cs.width, height:cs.height});
    if (!shape || shape.height <= 0) return null;
    const c = fillFn(params.dataIndex);
    const style = seam ? {fill:c, stroke:c, lineWidth:0.6} : {fill:c};
    return {type:'rect', shape:shape, style:style};
  };
}

const series = [];
series.push({type:'custom', xAxisIndex:0, yAxisIndex:0, silent:true,
  renderItem:rectRender(()=>'#595959', false), encode:{x:[0,1], y:2},
  data: topBinStart.map((s,i)=>[s, topBinEnd[i], topDensity[i]])});
series.push({type:'line', xAxisIndex:0, yAxisIndex:0, data:[], silent:true,
  markArea:{silent:true, itemStyle:{color:'rgba(190,190,190,0.35)'}, data:[[{xAxis:zoomRange[0]},{xAxis:zoomRange[1]}]]},
  markLine:{silent:true, symbol:'none', label:{show:false}, lineStyle:{color:'#333', type:[4,3], width:1.2},
    data:[{xAxis:zoomRange[0]},{xAxis:zoomRange[1]}]}});
series.push({type:'custom', xAxisIndex:1, yAxisIndex:1, silent:true,
  renderItem:rectRender(()=>'#595959', true), encode:{x:[0,1], y:2},
  data: histLeft.map((s,i)=>[s, s+1, histDensity[i]])});
series.push({type:'line', xAxisIndex:1, yAxisIndex:1, data:[], silent:true, z:5,
  markLine:{silent:true, symbol:'none', label:{show:false}, lineStyle:{color:'#E41A1C', type:[5,4], width:1.6},
    data:[{xAxis:medianTail}]}});
series.push({type:'custom', xAxisIndex:2, yAxisIndex:2, silent:true,
  renderItem:rectRender((i)=>viridis[i], false), encode:{x:[0,1], y:2},
  data: pasFraction.map((v,i)=>[i+1-0.45, i+1+0.45, v])});
ridges.forEach((h,i)=>{
  const base = 9 - i;
  series.push({type:'line', xAxisIndex:3, yAxisIndex:3, silent:true, z:2+i,
    smooth:0.35, showSymbol:false, connectNulls:false,
    lineStyle:{color:'#000', width:1.3},
    areaStyle:{color:viridis[i], opacity:1, origin:base},
    data: ridgeX.map((x,j)=>[x, h[j]==null ? null : base + h[j]])});
});
pasNames.forEach((p,k)=>{
  nts.forEach((nt)=>{
    const s = {type:'line', name:nt, xAxisIndex:4+k, yAxisIndex:4+k, silent:true, z:3,
      showSymbol:false, lineStyle:{color:ntColor[nt], width:2.4}, itemStyle:{color:ntColor[nt]},
      data: idx.map((x,j)=>[x, freq[p][nt][j]])};
    if (nt==='U') s.markLine = {silent:true, symbol:'none', label:{show:false},
      lineStyle:{color:'#000', type:[4,3], width:1.1}, data:[{xAxis:0}]};
    series.push(s);
  });
});

chart.setOption({
  animation:false,
  backgroundColor:'#fff',
  textStyle:{fontFamily:FONT},
  grid:grids, xAxis:xAxes, yAxis:yAxes,
  legend:{data:nts, orient:'vertical', left:731.7, top:322, padding:5, itemWidth:21, itemHeight:3, icon:'rect', itemGap:16,
    selectedMode:false, textStyle:{fontSize:14, color:'#1A1A1A', fontFamily:FONT, padding:[0,0,0,5]}},
  series:series
});

const g = [];
function txt(t, x, y, o){ g.push(Object.assign({type:'text', x:x, y:y, z:20,
  style:Object.assign({text:t, fill:'#000', font:'16px '+FONT, align:'center', verticalAlign:'middle'}, o||{})})); }
txt('A', 8.5, 11.5, {font:'bold 17px '+FONT});
txt('B', 234, 11, {font:'bold 17px '+FONT});
txt('C', 234, 417, {font:'bold 17px '+FONT});
txt('D', 513, 11, {font:'bold 17px '+FONT});
g.push({type:'text', x:23, y:380, rotation:Math.PI/2, z:20, style:{text:'Density', fill:'#000', font:'16px '+FONT, align:'center', verticalAlign:'middle'}});
txt('poly(A) tail length', 134.5, 775);
g.push({type:'text', x:248.5, y:178, rotation:Math.PI/2, z:20, style:{text:'Fraction reads with PAS', fill:'#000', font:'16px '+FONT, align:'center', verticalAlign:'middle'}});
txt('PAS distance from poly(A)', 396, 775);
g.push({type:'text', x:508, y:388, rotation:Math.PI/2, z:20, style:{text:'Frequency', fill:'#000', font:'16px '+FONT, align:'center', verticalAlign:'middle'}});
txt('Index', 616, 774);
pasNames.forEach((p,k)=>{
  const top = D_TOP + D_PITCH*k;
  g.push({type:'rect', z:1, shape:{x:D_LEFT+D_WIDTH+0.5, y:top+0.5, width:23, height:D_HEIGHT-1},
    style:{fill:'#D9D9D9', stroke:'#333', lineWidth:1, lineDash:[4,3]}});
  g.push({type:'text', z:2, x:D_LEFT+D_WIDTH+12, y:top+D_HEIGHT/2, rotation:-Math.PI/2,
    style:{text:p, fill:'#1A1A1A', font:'10.5px '+FONT, align:'center', verticalAlign:'middle'}});
});
const tl = chart.convertToPixel({gridIndex:0}, [zoomRange[0], 0]);
const tr = chart.convertToPixel({gridIndex:0}, [zoomRange[1], 0]);
const bl = chart.convertToPixel({gridIndex:1}, [zoomRange[0], 0.151]);
const br = chart.convertToPixel({gridIndex:1}, [zoomRange[1], 0.151]);
g.push({type:'polygon', z:-1, shape:{points:[tl,tr,br,bl]}, style:{fill:'#E8E8E8'}});
g.push({type:'polyline', z:1, shape:{points:[tl,bl]}, style:{stroke:'#000', lineWidth:1.1, lineDash:[5,4], fill:null}});
g.push({type:'polyline', z:1, shape:{points:[tr,br]}, style:{stroke:'#000', lineWidth:1.1, lineDash:[5,4], fill:null}});
chart.setOption({graphic:g});
</script></body></html>
